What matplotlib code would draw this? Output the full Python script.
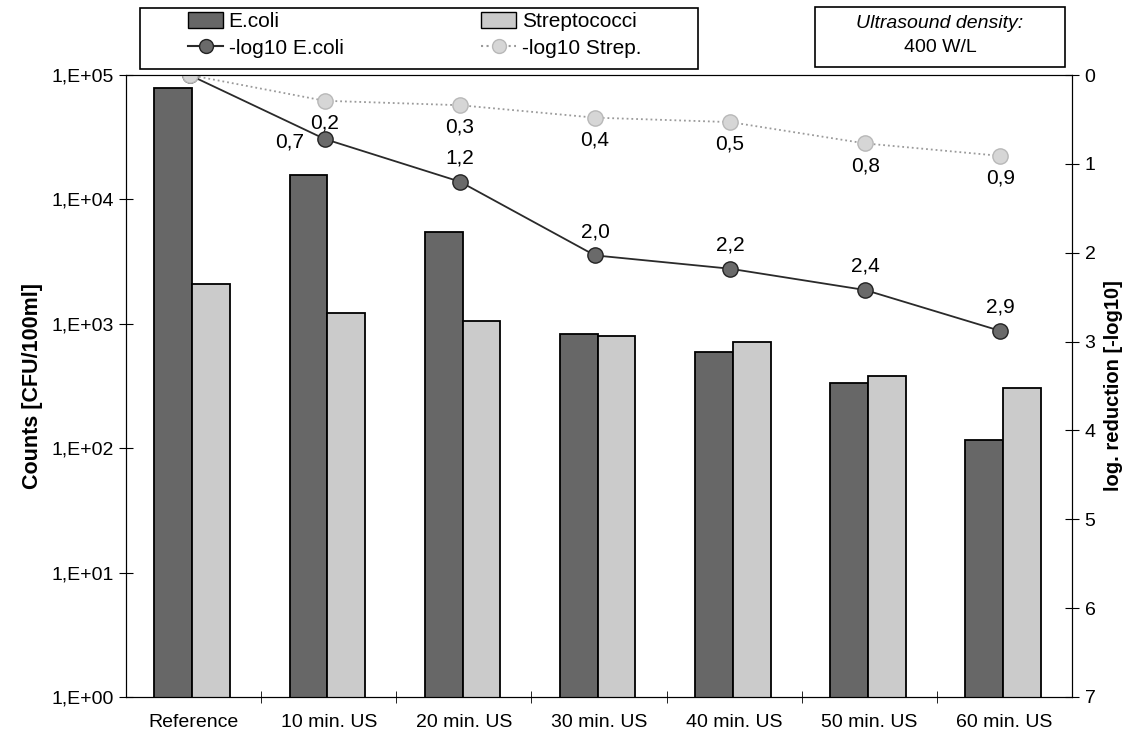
import matplotlib.pyplot as plt
import numpy as np
from matplotlib.lines import Line2D
from matplotlib.patches import Patch, Rectangle

plt.rcParams['font.family'] = ['Liberation Sans', 'DejaVu Sans']

categories = ['Reference', '10 min. US', '20 min. US', '30 min. US',
              '40 min. US', '50 min. US', '60 min. US']
ecoli_counts = [78500, 15700, 5470, 830, 590, 335, 116]
strep_counts = [2090, 1220, 1050, 800, 715, 380, 305]
ecoli_red = [0.0, 0.72, 1.20, 2.03, 2.18, 2.42, 2.88]
strep_red = [0.0, 0.29, 0.34, 0.48, 0.53, 0.77, 0.91]
ecoli_lbl = ['', '0,7', '1,2', '2,0', '2,2', '2,4', '2,9']
strep_lbl = ['', '0,2', '0,3', '0,4', '0,5', '0,8', '0,9']
yticks_left = [1, 10, 100, 1000, 10000, 100000]
yticklabels_left = ['1,E+00', '1,E+01', '1,E+02', '1,E+03', '1,E+04', '1,E+05']

dark = '#676767'
light = '#cbcbcb'

fig = plt.figure(figsize=(11.27, 7.35), dpi=100)
# plot area: x 126..1072 px, y 75..697 px
ax = fig.add_axes([126 / 1127, 38 / 735, 946 / 1127, 622 / 735])

x = np.arange(len(categories))
w = 0.28
ax.bar(x - w / 2 - 0.01, ecoli_counts, w, color=dark, edgecolor='black', linewidth=1.3)
ax.bar(x + w / 2 - 0.01, strep_counts, w, color=light, edgecolor='black', linewidth=1.3)
ax.set_yscale('log')
ax.set_ylim(1, 100000)
ax.set_xlim(-0.5, len(categories) - 0.5)
ax.set_yticks(yticks_left)
ax.set_yticklabels(yticklabels_left)
ax.yaxis.set_minor_locator(plt.NullLocator())
ax.set_xticks(x)
ax.set_xticklabels(categories)
ax.tick_params(axis='x', length=0, pad=12, labelsize=14)
ax.set_xticks(np.arange(len(categories) - 1) + 0.5, minor=True)
ax.tick_params(axis='x', which='minor', direction='inout', length=8)
ax.tick_params(axis='y', direction='inout', length=10, labelsize=14)
ax.set_ylabel('Counts [CFU/100ml]', fontsize=15.5, fontweight='bold', labelpad=6)

ax2 = ax.twinx()
ax2.set_ylim(7, 0)
ax2.set_yticks(range(8))
ax2.tick_params(axis='y', direction='inout', length=10, labelsize=14, pad=4)
ax2.set_ylabel('log. reduction [-log10]', fontsize=14.5, fontweight='bold', labelpad=6)

ax2.plot(x - 0.03, ecoli_red, color='#2a2a2a', linewidth=1.3,
         marker='o', markersize=11, markerfacecolor='#6a6a6a', markeredgecolor='#222222')
ax2.plot(x - 0.03, strep_red, color='#9a9a9a', linestyle=':', linewidth=1.3,
         marker='o', markersize=11, markerfacecolor='#d6d6d6', markeredgecolor='#b8b8b8')

for i in range(1, len(categories)):
    if i == 1:
        off = (-25, -2)
    else:
        off = (0, 17)
    ax2.annotate(ecoli_lbl[i], (x[i] - 0.03, ecoli_red[i]), xytext=off,
                 textcoords='offset points', ha='center', va='center', fontsize=15)
    ax2.annotate(strep_lbl[i], (x[i] - 0.03, strep_red[i]), xytext=(0, -16),
                 textcoords='offset points', ha='center', va='center', fontsize=15)

handles = [Patch(facecolor=dark, edgecolor='black'),
           Line2D([], [], color='#2a2a2a', marker='o', markersize=10,
                  markerfacecolor='#6a6a6a', markeredgecolor='#222222'),
           Patch(facecolor=light, edgecolor='black'),
           Line2D([], [], color='#9a9a9a', linestyle=':', marker='o', markersize=10,
                  markerfacecolor='#d6d6d6', markeredgecolor='#b8b8b8')]
labels = ['E.coli', '-log10 E.coli', 'Streptococci', '-log10 Strep.']
fig.legend(handles, labels, ncol=2, loc='upper left',
           bbox_to_anchor=(188 / 1127, 1 - 12 / 735), fontsize=15, frameon=False,
           handlelength=1.7, handleheight=0.8, handletextpad=0.25, borderpad=0,
           borderaxespad=0, labelspacing=0.35, columnspacing=6.6)
fig.patches.append(Rectangle((140 / 1127, 1 - 69 / 735), 558 / 1127, 61 / 735,
                             transform=fig.transFigure, facecolor='none',
                             edgecolor='black', linewidth=1.2))

fig.text(940 / 1127, 1 - 24 / 735, 'Ultrasound density:', ha='center', va='center',
         fontsize=14, style='italic')
fig.text(940 / 1127, 1 - 47 / 735, '400 W/L', ha='center', va='center', fontsize=14)
fig.patches.append(Rectangle((815 / 1127, 1 - 67 / 735), 250 / 1127, 60 / 735,
                             transform=fig.transFigure, facecolor='none',
                             edgecolor='black', linewidth=1.2))

fig.savefig('out.png', dpi=100)
